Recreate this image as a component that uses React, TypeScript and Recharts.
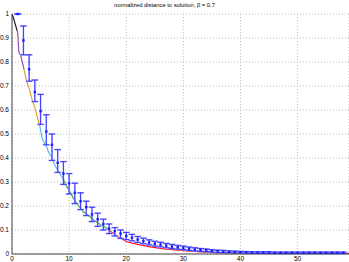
import { ComposedChart, Line, Scatter, ErrorBar, XAxis, YAxis, CartesianGrid } from 'recharts';

// coloured segments of the single-run curve
const darkX = [0, 0.3, 0.6, 0.9];
const darkY = [1, 0.98, 0.955, 0.93];
const purpleX = [0.9, 1.0, 1.2, 1.5, 1.8, 2.1];
const purpleY = [0.93, 0.92, 0.84, 0.83, 0.8, 0.77];
const orangeX = [2.1, 2.5, 3.0, 3.5, 4.0, 4.5, 4.9];
const orangeY = [0.77, 0.725, 0.69, 0.645, 0.61, 0.565, 0.53];
const cyanX = [4.9, 5.2, 5.5, 6, 6.5, 7, 7.5, 8, 8.5, 9];
const cyanY = [0.53, 0.49, 0.47, 0.45, 0.42, 0.4, 0.37, 0.35, 0.33, 0.31];
const greenX = [9, 9.5, 10, 10.75, 11.5, 12.5, 13.5, 14.3, 15.5, 16.6, 17.2];
const greenY = [0.31, 0.285, 0.265, 0.233, 0.205, 0.176, 0.158, 0.142, 0.122, 0.107, 0.095];
const redX = [17.2, 18.6, 20.1, 22, 24.2, 27, 30, 33, 35.9, 40, 45, 50, 55, 59];
const redY = [0.095, 0.072, 0.051, 0.04, 0.03, 0.02, 0.014, 0.009, 0.006, 0.004, 0.003, 0.003, 0.003, 0.003];

// mean over runs with spread
const meanX = [
  1, 2, 3, 4, 5, 6, 7, 8, 9, 10, 11, 12, 13, 14, 15, 16, 17, 18, 19, 20,
  21, 22, 23, 24, 25, 26, 27, 28, 29, 30, 31, 32, 33, 34, 35, 36, 37, 38, 39, 40,
  41, 42, 43, 44, 45, 46, 47, 48, 49, 50, 51, 52, 53, 54, 55, 56, 57, 58,
];
const meanY = [
  1.0, 0.89, 0.77, 0.675, 0.595, 0.51, 0.455, 0.38, 0.335, 0.295, 0.255, 0.22, 0.195, 0.165, 0.145, 0.125, 0.105, 0.095, 0.085, 0.075,
  0.068, 0.06, 0.054, 0.048, 0.043, 0.039, 0.035, 0.031, 0.028, 0.025, 0.022, 0.019, 0.017, 0.015, 0.013, 0.011, 0.01, 0.009, 0.008, 0.007,
  0.007, 0.006, 0.006, 0.006, 0.006, 0.005, 0.005, 0.005, 0.005, 0.005, 0.005, 0.005, 0.005, 0.005, 0.005, 0.005, 0.005, 0.005,
];
const errLow = [
  0, 0.06, 0.05, 0.04, 0.055, 0.055, 0.065, 0.04, 0.045, 0.045, 0.045, 0.035, 0.035, 0.03, 0.03, 0.025, 0.02, 0.02, 0.02, 0.015,
  0.013, 0.012, 0.011, 0.01, 0.01, 0.009, 0.009, 0.008, 0.008, 0.007, 0.007, 0.006, 0.006, 0.005, 0.005, 0.005, 0.004, 0.004, 0.004, 0.003,
  0.003, 0.003, 0.003, 0.003, 0.003, 0.003, 0.003, 0.003, 0.003, 0.003, 0.003, 0.003, 0.003, 0.003, 0.003, 0.003, 0.003, 0.003,
];
const errHigh = [
  0, 0.06, 0.06, 0.05, 0.07, 0.07, 0.045, 0.055, 0.05, 0.04, 0.04, 0.035, 0.025, 0.03, 0.025, 0.02, 0.02, 0.015, 0.015, 0.015,
  0.014, 0.013, 0.012, 0.011, 0.01, 0.01, 0.009, 0.009, 0.008, 0.008, 0.007, 0.007, 0.006, 0.006, 0.005, 0.005, 0.005, 0.004, 0.004, 0.004,
  0.003, 0.003, 0.003, 0.003, 0.003, 0.003, 0.003, 0.003, 0.003, 0.003, 0.003, 0.003, 0.003, 0.003, 0.003, 0.003, 0.003, 0.003,
];

const xTicks = [0, 10, 20, 30, 40, 50];
const yTicks = [0, 0.1, 0.2, 0.3, 0.4, 0.5, 0.6, 0.7, 0.8, 0.9, 1];

const seg = (xs: number[], ys: number[]) => xs.map((x, i) => ({ x, y: ys[i] }));

const segments = [
  { key: 'dark', color: '#2a1436', data: seg(darkX, darkY) },
  { key: 'purple', color: '#9c4fb4', data: seg(purpleX, purpleY) },
  { key: 'orange', color: '#e3a02c', data: seg(orangeX, orangeY) },
  { key: 'cyan', color: '#5ab6ee', data: seg(cyanX, cyanY) },
  { key: 'green', color: '#3cae3c', data: seg(greenX, greenY) },
  { key: 'red', color: '#ff1414', data: seg(redX, redY) },
];

const meanData = meanX.map((x, i) => ({ x, y: meanY[i], err: [errLow[i], errHigh[i]] }));

const FONT = '"Liberation Sans", Arial, sans-serif';

const Marker = (props: any) => {
  const { cx, cy } = props;
  if (cx == null || cy == null) return null;
  return <rect x={cx - 1.2} y={cy - 1.2} width={2.4} height={2.4} fill="#1a1aff" />;
};

export default function App() {
  return (
    <div style={{ position: 'relative', width: 349, height: 262, background: '#fff', fontFamily: FONT }}>
      <style>{`body{margin:0}`}</style>
      <div style={{ position: 'absolute', top: 2, left: 0, width: 329, textAlign: 'center', fontSize: 5.8, color: '#000', lineHeight: '7px' }}>
        normalized distance to solution, β = 0.7
      </div>
      <ComposedChart width={349} height={262} margin={{ top: 14, right: 0, left: 0, bottom: 0 }}>
        <CartesianGrid stroke="#bdbdbd" strokeDasharray="1 2" />
        <XAxis
          type="number"
          dataKey="x"
          domain={[0, 59]}
          ticks={xTicks}
          allowDataOverflow
          height={8}
          tickSize={0}
          tickMargin={2}
          axisLine={{ stroke: '#444' }}
          tickLine={false}
          tick={{ fontSize: 6.5, fill: '#000', fontFamily: FONT }}
        />
        <YAxis
          type="number"
          dataKey="y"
          domain={[0, 1]}
          ticks={yTicks}
          width={12}
          tickSize={0}
          tickMargin={3}
          axisLine={{ stroke: '#444' }}
          tickLine={false}
          tick={{ fontSize: 6.5, fill: '#000', fontFamily: FONT }}
        />
        {segments.map(s => (
          <Line
            key={s.key}
            data={s.data}
            dataKey="y"
            type="linear"
            stroke={s.color}
            strokeWidth={1.2}
            dot={false}
            isAnimationActive={false}
          />
        ))}
        <Scatter data={meanData} dataKey="y" shape={<Marker />} isAnimationActive={false}>
          <ErrorBar dataKey="err" direction="y" width={3.5} stroke="#a8a8ff" strokeWidth={1.6} isAnimationActive={false} />
          <ErrorBar dataKey="err" direction="y" width={3} stroke="#2222ff" strokeWidth={0.8} isAnimationActive={false} />
        </Scatter>
      </ComposedChart>
    </div>
  );
}
